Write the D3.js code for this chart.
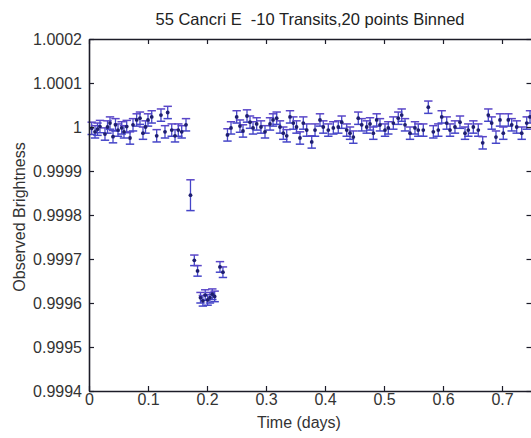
<!DOCTYPE html>
<html>
<head>
<meta charset="utf-8">
<script src="https://cdn.jsdelivr.net/npm/d3@7"></script>
<style>
  html, body { margin: 0; padding: 0; background: #fff; }
  svg { display: block; }
  text { font-family: "Liberation Sans", Arial, sans-serif; }
</style>
</head>
<body>
<svg id="chart" width="531" height="438"></svg>
<script>
// Binned light curve of 55 Cancri e: time (days), relative brightness and 1-sigma error
const timesBefore = [0.0046, 0.0102, 0.0144, 0.0186, 0.0271, 0.0314, 0.0356, 0.0407, 0.0449, 0.0492,
  0.0554, 0.0593, 0.0639, 0.0695, 0.0746, 0.0808, 0.0864, 0.0915, 0.0958, 0.1000,
  0.1063, 0.1147, 0.1220, 0.1288, 0.1334, 0.1402, 0.1458, 0.1514, 0.1571, 0.1644];
const brightBefore = [0.999997, 0.999989, 0.999995, 1.000001, 0.999984, 1.000000, 1.000009, 0.999978, 1.000005, 0.999993,
  0.999998, 0.999989, 1.000001, 0.999975, 1.000005, 1.000016, 1.000020, 0.999986, 1.000000, 1.000016,
  1.000023, 0.999980, 1.000027, 0.999989, 1.000033, 0.999993, 0.999980, 0.999993, 0.999989, 1.000005];

const timesTransit = [0.1720, 0.1785, 0.1840, 0.1890, 0.1930, 0.1970, 0.2010, 0.2050, 0.2090, 0.2130, 0.2220, 0.2270];
const brightTransit = [0.999845, 0.999697, 0.999673, 0.999612, 0.999605, 0.999618, 0.999607, 0.999612, 0.999620, 0.999615, 0.999682, 0.999670];
const errTransit = [0.000035, 0.000012, 0.000012, 0.000012, 0.000012, 0.000012, 0.000012, 0.000012, 0.000012, 0.000012, 0.000012, 0.000012];

const timesAfter = [0.2347, 0.2407, 0.2503, 0.2559, 0.2610, 0.2678, 0.2729, 0.2780, 0.2842, 0.2915,
  0.2983, 0.3068, 0.3119, 0.3181, 0.3237, 0.3293, 0.3351, 0.3407, 0.3463, 0.3517,
  0.3576, 0.3632, 0.3690, 0.3775, 0.3831, 0.3915, 0.3971, 0.4056, 0.4141, 0.4225,
  0.4283, 0.4368, 0.4424, 0.4480, 0.4564, 0.4622, 0.4707, 0.4763, 0.4819, 0.4876,
  0.4932, 0.5017, 0.5073, 0.5158, 0.5242, 0.5300, 0.5356, 0.5441, 0.5525, 0.5581,
  0.5666, 0.5751, 0.5836, 0.5920, 0.5978, 0.6063, 0.6119, 0.6203, 0.6288, 0.6373,
  0.6429, 0.6514, 0.6598, 0.6673, 0.6768, 0.6825, 0.6898, 0.6966, 0.7022, 0.7107,
  0.7164, 0.7249, 0.7334, 0.7419, 0.7475];
const brightAfter = [0.999982, 0.999998, 1.000023, 1.000002, 0.999991, 1.000025, 1.000011, 0.999998, 1.000007, 1.000000,
  0.999989, 1.000007, 1.000016, 1.000020, 1.000000, 0.999986, 0.999980, 1.000023, 1.000009, 1.000000,
  0.999975, 1.000009, 0.999993, 0.999966, 0.999993, 1.000016, 1.000000, 0.999993, 0.999998, 1.000000,
  1.000011, 0.999993, 0.999986, 0.999977, 1.000020, 1.000005, 1.000000, 1.000007, 0.999986, 1.000016,
  1.000005, 0.999993, 0.999998, 1.000009, 1.000020, 1.000027, 1.000005, 0.999986, 0.999998, 0.999993,
  0.999993, 1.000045, 0.999989, 0.999993, 1.000023, 1.000009, 0.999993, 1.000000, 1.000011, 0.999986,
  0.999993, 1.000000, 0.999993, 0.999964, 1.000027, 1.000009, 0.999977, 1.000016, 0.999986, 1.000016,
  1.000005, 1.000000, 0.999986, 1.000009, 1.000023];

const baselineErr = 0.000014;

const xTicks = [0, 0.1, 0.2, 0.3, 0.4, 0.5, 0.6, 0.7];
const xTickLabels = ["0", "0.1", "0.2", "0.3", "0.4", "0.5", "0.6", "0.7"];
const yTicks = [0.9994, 0.9995, 0.9996, 0.9997, 0.9998, 0.9999, 1.0, 1.0001, 1.0002];
const yTickLabels = ["0.9994", "0.9995", "0.9996", "0.9997", "0.9998", "0.9999", "1", "1.0001", "1.0002"];

const titleText = "55 Cancri E  -10 Transits,20 points Binned";
const xLabelText = "Time (days)";
const yLabelText = "Observed Brightness";

// assemble point records
const points = [];
timesBefore.forEach((t, i) => points.push({ t, b: brightBefore[i], e: baselineErr }));
timesTransit.forEach((t, i) => points.push({ t, b: brightTransit[i], e: errTransit[i] }));
timesAfter.forEach((t, i) => points.push({ t, b: brightAfter[i], e: baselineErr }));

const svg = d3.select("#chart");
const plotLeft = 89, plotRight = 531.5, plotTop = 39, plotBottom = 391;

const x = d3.scaleLinear().domain([0, 0.75]).range([plotLeft, plotRight]);
const y = d3.scaleLinear().domain([0.9994, 1.0002]).range([plotBottom, plotTop]);

const axisColor = "#1c1c28";
const labelColor = "#333";
const fontSize = "16px";

// error bars
const barColor = "#4545c8";
const capHalf = 4.2;
const bars = svg.append("g").attr("class", "errorbars");
points.forEach(p => {
  const cx = x(p.t), y0 = y(p.b - p.e), y1 = y(p.b + p.e);
  bars.append("line").attr("x1", cx).attr("x2", cx).attr("y1", y0).attr("y2", y1)
    .attr("stroke", barColor).attr("stroke-width", 1.3);
  bars.append("line").attr("x1", cx - capHalf).attr("x2", cx + capHalf).attr("y1", y0).attr("y2", y0)
    .attr("stroke", barColor).attr("stroke-width", 1.5);
  bars.append("line").attr("x1", cx - capHalf).attr("x2", cx + capHalf).attr("y1", y1).attr("y2", y1)
    .attr("stroke", "#5a46c8").attr("stroke-width", 1.5);
});

// data points
svg.append("g").selectAll("circle").data(points).join("circle")
  .attr("cx", d => x(d.t)).attr("cy", d => y(d.b)).attr("r", 1.9)
  .attr("fill", "#1e1e70");

// axes with inward ticks
function styleAxis(g) {
  g.select(".domain").attr("stroke", axisColor).attr("stroke-width", 1.6);
  g.selectAll(".tick line").attr("stroke", axisColor).attr("stroke-width", 1.2);
  g.selectAll(".tick text").attr("fill", labelColor).style("font-size", fontSize)
    .style("font-family", "'Liberation Sans', Arial, sans-serif");
}

const xAxis = d3.axisBottom(x).tickValues(xTicks)
  .tickFormat((d, i) => xTickLabels[i]).tickSizeInner(-5).tickSizeOuter(0).tickPadding(3);
svg.append("g").attr("transform", `translate(0,${plotBottom})`).call(xAxis).call(styleAxis);

const xAxisTop = d3.axisTop(x).tickValues(xTicks).tickFormat("").tickSizeInner(-5).tickSizeOuter(0);
svg.append("g").attr("transform", `translate(0,${plotTop})`).call(xAxisTop).call(styleAxis);

const yAxis = d3.axisLeft(y).tickValues(yTicks)
  .tickFormat((d, i) => yTickLabels[i]).tickSizeInner(-5).tickSizeOuter(0).tickPadding(7);
svg.append("g").attr("transform", `translate(${plotLeft},0)`).call(yAxis).call(styleAxis);

const yAxisRight = d3.axisRight(y).tickValues(yTicks).tickFormat("").tickSizeInner(-5).tickSizeOuter(0);
svg.append("g").attr("transform", `translate(${plotRight},0)`).call(yAxisRight).call(styleAxis);

// title and axis labels
svg.append("text").attr("x", 310).attr("y", 25).attr("text-anchor", "middle")
  .style("white-space", "pre").attr("fill", "#222").style("font-size", "16.5px").text(titleText);

svg.append("text").attr("x", 299).attr("y", 428).attr("text-anchor", "middle")
  .attr("fill", labelColor).style("font-size", fontSize).text(xLabelText);

svg.append("text").attr("transform", `translate(25,${(plotTop + plotBottom) / 2 + 2}) rotate(-90)`)
  .attr("text-anchor", "middle").attr("fill", labelColor).style("font-size", fontSize).text(yLabelText);
</script>
</body>
</html>
